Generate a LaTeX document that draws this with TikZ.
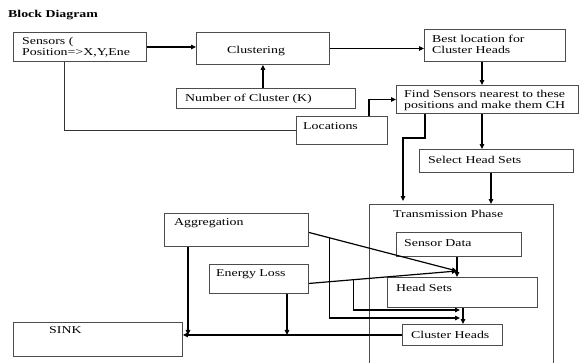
\documentclass[tikz,border=0pt]{standalone}
\usepackage{fontspec}
\setmainfont{Liberation Serif}[FakeStretch=1.32]
\usetikzlibrary{arrows.meta,calc}
\begin{document}
\begin{tikzpicture}[x=1pt,y=-1pt,
  box/.style={draw=black!70, line width=0.9pt, inner sep=0pt, anchor=north west},
  txt/.style={anchor=base west, inner sep=0pt, font=\fontsize{10.5}{11}\selectfont, text=black},
  arr/.style={draw=black, line width=1.2pt, -{Triangle[length=5pt,width=4.5pt]}},
  ln/.style={draw=black!80, line width=0.9pt}]
\useasboundingbox (0,0) rectangle (579,362);
\fill[white] (0,0) rectangle (579,362);
% boxes
\node[box, minimum width=184pt, minimum height=170pt] (trans) at (369,204) {};
\node[box, minimum width=133pt, minimum height=29pt] (sensors) at (13,32) {};
\node[box, minimum width=133pt, minimum height=32pt] (clustering) at (196,32) {};
\node[box, minimum width=179pt, minimum height=20pt] (number) at (176,88) {};
\node[box, minimum width=141pt, minimum height=32pt] (best) at (424,29) {};
\node[box, minimum width=182pt, minimum height=28pt] (find) at (396,85) {};
\node[box, minimum width=91pt, minimum height=28pt] (locations) at (296,116) {};
\node[box, minimum width=154pt, minimum height=23pt] (select) at (419,149) {};
\node[box, minimum width=125pt, minimum height=24pt] (sdata) at (396,232) {};
\node[box, minimum width=150pt, minimum height=30pt] (hsets) at (387,277) {};
\node[box, minimum width=100pt, minimum height=21pt] (cheads) at (402,324) {};
\node[box, minimum width=144pt, minimum height=33pt] (agg) at (164,213) {};
\node[box, minimum width=99pt, minimum height=29pt] (eloss) at (209,264) {};
\node[box, minimum width=169pt, minimum height=34pt] (sink) at (13,322) {};
% texts
\node[txt, font=\bfseries\fontsize{10.5}{11}\selectfont] (title) at (8,17) {Block Diagram};
\node[txt] (t1) at (22,44) {Sensors (};
\node[txt] (t2) at (22,55) {Position=>X,Y,Ene};
\node[txt] (t3) at (227,53) {Clustering};
\node[txt] (t4) at (185,101) {Number of Cluster (K)};
\node[txt] (t5) at (432,42) {Best location for};
\node[txt] (t6) at (432,53) {Cluster Heads};
\node[txt] (t7) at (404,97) {Find Sensors nearest to these};
\node[txt] (t8) at (404,108) {positions and make them CH};
\node[txt] (t9) at (303,129) {Locations};
\node[txt] (t10) at (428,163) {Select Head Sets};
\node[txt] (t11) at (393,217) {Transmission Phase};
\node[txt] (t12) at (404,246) {Sensor Data};
\node[txt] (t13) at (396,291) {Head Sets};
\node[txt] (t14) at (411,338) {Cluster Heads};
\node[txt] (t15) at (174,225) {Aggregation};
\node[txt] (t16) at (216,276) {Energy Loss};
\node[txt] (t17) at (49,333) {SINK};
% connectors
\draw[arr] (sensors.east) -- (sensors.east -| clustering.west);
\draw[arr] (clustering.south |- number.north) -- (clustering.south);
\draw[arr] (clustering.east) -- (clustering.east -| best.west);
\draw[arr] (482,0 |- best.south) -- (482,0 |- find.north);
\draw[ln] (64,0 |- sensors.south) |- (locations.west);
\draw[arr] (369,0 |- locations.north) |- (find.west);
\draw[arr] (482,0 |- find.south) -- (482,0 |- select.north);
\coordinate (bend) at (425,138);
\draw[arr, shorten >=3pt] (425,0 |- find.south) -- (bend) -| (403,0 |- trans.north);
\draw[arr] (491,0 |- select.south) -- (491,0 |- trans.north);
\draw[arr] (457,0 |- sdata.south) -- (457,0 |- hsets.north);
\coordinate (hit) at (457,271);
\coordinate (aggE) at ([yshift=-2.5pt]agg.east);
\coordinate (elE) at ([yshift=-4.5pt]eloss.east);
\coordinate (j1) at (460,318);
\coordinate (j2) at (460,310);
\draw[arr] (aggE) -- (hit);
\draw[arr] (elE) -- (hit);
\draw[arr] ($(aggE)!0.141!(hit)$) |- (j1);
\draw[arr] ($(elE)!0.302!(hit)$) |- (j2);
\draw[arr] (463,0 |- hsets.south) -- (463,0 |- cheads.north);
\draw[arr] (cheads.west) -- (cheads.west -| sink.east);
\draw[arr] (188,0 |- agg.south) -- (188,0 |- cheads.west);
\draw[arr] (287,0 |- eloss.south) -- (287,0 |- cheads.west);
\end{tikzpicture}
\end{document}
